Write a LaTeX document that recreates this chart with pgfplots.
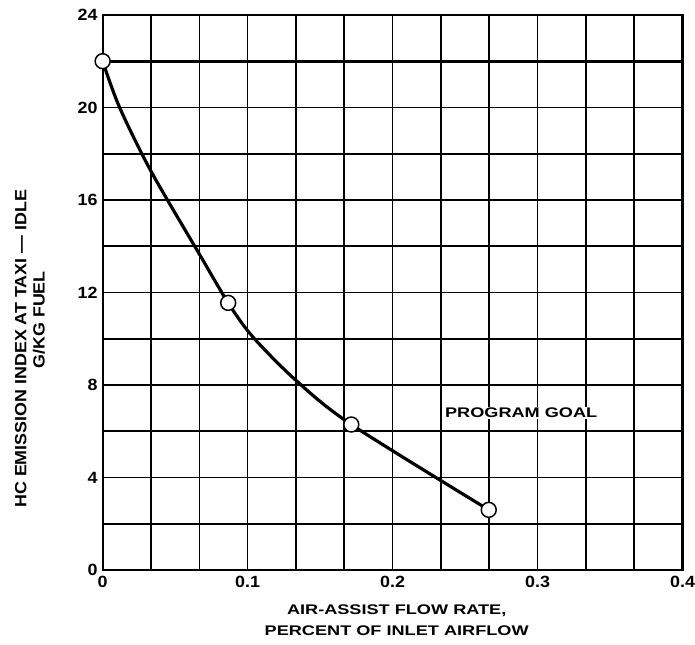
\documentclass[border=0pt]{standalone}
\usepackage{pgfplots}
\pgfplotsset{compat=1.18}
\usepackage{fontspec}
\setmainfont{Liberation Sans}
\newfontfamily\widefont{Liberation Sans}[FakeStretch=1.3]
\newfontfamily\midfont{Liberation Sans}[FakeStretch=1.1]
\begin{document}
\begin{tikzpicture}[x=1bp,y=1bp]
\path (-103bp,-75bp) rectangle (592bp,572bp);
\begin{axis}[
  at={(0,0)}, anchor=south west,
  scale only axis,
  width=582bp, height=557bp,
  xmin=0, xmax=0.4, ymin=0, ymax=24,
  xtick={0,0.1,0.2,0.3,0.4},
  xticklabels={0,0.1,0.2,0.3,0.4},
  minor xtick={0.03333,0.06667,0.13333,0.16667,0.23333,0.26667,0.33333,0.36667},
  ytick={0,4,8,12,16,20,24},
  minor ytick={2,6,10,14,18,22},
  grid=both,
  major grid style={black, line width=1.6bp},
  minor grid style={black, line width=1.6bp},
  axis line style={black, line width=2.2bp},
  major tick length=0pt, minor tick length=0pt,
  /pgf/number format/assume math mode=true,
  tick label style={font=\fontsize{16.3bp}{18bp}\midfont\bfseries, inner sep=0pt},
  xticklabel style={anchor=north, yshift=-6bp},
  yticklabel style={anchor=east, xshift=-5bp},
  xlabel={AIR-ASSIST FLOW RATE,\\PERCENT OF INLET AIRFLOW},
  xlabel style={font=\fontsize{14bp}{21bp}\widefont\bfseries, align=center,
    at={(axis description cs:0.507,-0.0907)}, anchor=center},
  ylabel={HC EMISSION INDEX AT TAXI — IDLE},
  ylabel style={font=\fontsize{16.3bp}{18bp}\midfont\bfseries,
    at={(axis description cs:-0.1412,0.3986)}, anchor=center},
  clip=false,
]
\addplot[black, line width=2.8bp] coordinates {(0,22) (0.4,22)};
\addplot[black, line width=3.2bp, smooth, tension=0.5] coordinates {
 (0,22) (0.0117,20) (0.0333,17.25) (0.0667,13.66) (0.0866,11.55)
 (0.1033,10.1) (0.1333,8.2) (0.1715,6.29) (0.2663,2.6)};
\addplot[only marks, mark=*, mark size=7.5bp, mark options={fill=white, draw=black, line width=1.5bp}]
 coordinates {(0,22) (0.0866,11.55) (0.1715,6.29) (0.2663,2.6)};
\node[font=\fontsize{14bp}{16bp}\widefont\bfseries, fill=white, inner sep=1bp] at (axis cs:0.2887,6.8) {PROGRAM GOAL};
\node[font=\fontsize{16.3bp}{18bp}\midfont\bfseries, rotate=90] at (axis description cs:-0.110,0.4506) {G/KG FUEL};
\end{axis}
\end{tikzpicture}
\end{document}
